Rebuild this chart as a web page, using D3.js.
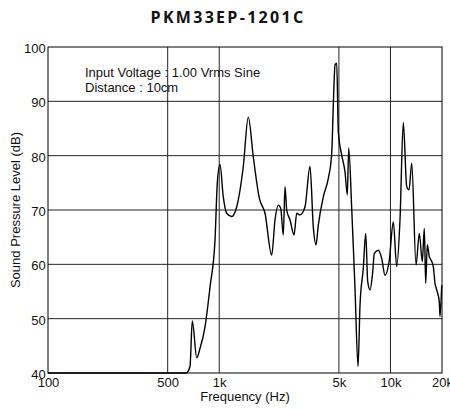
<!DOCTYPE html>
<html>
<head>
<meta charset="utf-8">
<script src="https://cdn.jsdelivr.net/npm/d3@7"></script>
<style>
  html, body { margin: 0; padding: 0; background: #fff; }
  svg { display: block; }
</style>
</head>
<body>
<svg id="chart" width="450" height="410"></svg>
<script>
const title = "PKM33EP-1201C";
const notes = ["Input Voltage : 1.00 Vrms Sine", "Distance : 10cm"];
const xLabel = "Frequency (Hz)";
const yLabel = "Sound Pressure Level (dB)";

const xTicks = [100, 500, 1000, 5000, 10000, 20000];
const xTickLabels = ["100", "500", "1k", "5k", "10k", "20k"];
const yTicks = [40, 50, 60, 70, 80, 90, 100];

const freqs = [100, 640, 675, 696, 739, 772, 826, 884, 945, 974, 1010, 1056, 1106, 1183, 1265, 1382, 1478, 1581, 1714, 1851,
  2025, 2117, 2213, 2286, 2367, 2422, 2478, 2590, 2734, 2836, 2964, 3169, 3389, 3543, 3675, 3790, 4053, 4335, 4539, 4637,
  4745, 4855, 4960, 5193, 5428, 5598, 5704, 5939, 6208, 6466, 6642, 6941, 7170, 7366, 7597, 7877, 8050, 8492, 8889, 9294,
  9847, 10390, 10877, 11369, 11885, 12446, 12836, 13312, 14103, 14744, 15346, 15765, 16066, 16414, 16863, 17252, 17795,
  18206, 18627, 19290, 19473, 19923];
const spl = [40, 40, 41.2, 49.6, 42.8, 44.5, 48.5, 55.9, 64.5, 74.9, 78.4, 72.4, 69.4, 68.8, 70.6, 78.0, 87.1, 79.8, 72.2, 69.4,
  61.7, 68.2, 70.9, 70.3, 65.4, 74.3, 70.0, 68.2, 65.4, 69.4, 69.1, 70.6, 78.0, 66.9, 63.6, 67.2, 72.4, 75.8, 80.4, 89.3,
  96.7, 97.0, 84.4, 80.1, 77.0, 72.8, 81.4, 70.3, 55.6, 41.2, 52.5, 59.3, 65.7, 56.8, 55.3, 58.6, 62.0, 62.6, 61.1, 58.0,
  60.8, 67.8, 59.6, 68.2, 86.1, 74.3, 73.7, 78.6, 59.9, 65.7, 60.5, 66.6, 56.5, 63.6, 61.4, 60.8, 59.6, 56.5,
  55.3, 53.1, 50.4, 56.2];

const svg = d3.select("#chart");
const L = 48, R = 442, T = 47, B = 373;
const font = "'Liberation Sans', Arial, sans-serif";
const fs = 13;

const x = d3.scaleLog().domain([100, 20000]).range([L, R]);
const y = d3.scaleLinear().domain([40, 100]).range([B, T]);

// title
svg.append("text")
  .attr("x", 228).attr("y", 23)
  .attr("text-anchor", "middle")
  .attr("font-family", "'Open Sans', sans-serif")
  .attr("font-weight", "bold")
  .attr("font-size", 16)
  .attr("letter-spacing", 2.3)
  .attr("fill", "#111")
  .text(title);

// grid
const grid = svg.append("g").attr("stroke", "#222").attr("stroke-width", 1);
grid.selectAll("line.v").data(xTicks.slice(1, -1)).join("line")
  .attr("x1", d => x(d)).attr("x2", d => x(d)).attr("y1", T).attr("y2", B);
grid.selectAll("line.h").data(yTicks.slice(1, -1)).join("line")
  .attr("y1", d => y(d)).attr("y2", d => y(d)).attr("x1", L).attr("x2", R);

// frame
svg.append("rect").attr("x", L).attr("y", T).attr("width", R - L).attr("height", B - T)
  .attr("fill", "none").attr("stroke", "#000").attr("stroke-width", 1);

// axes
const xAxis = svg.append("g").attr("transform", `translate(0,${B})`)
  .call(d3.axisBottom(x).tickValues(xTicks).tickFormat((d, i) => xTickLabels[i]).tickSize(0).tickPadding(4.5));
xAxis.select(".domain").remove();
xAxis.selectAll("text").attr("font-family", font).attr("font-size", fs).attr("fill", "#111");

const yAxis = svg.append("g").attr("transform", `translate(${L},0)`)
  .call(d3.axisLeft(y).tickValues(yTicks).tickSize(0).tickPadding(2.3));
yAxis.select(".domain").remove();
yAxis.selectAll("text").attr("font-family", font).attr("font-size", fs).attr("fill", "#111").attr("dy", "0.42em");

// axis titles
svg.append("text").attr("x", (L + R) / 2).attr("y", 401).attr("text-anchor", "middle")
  .attr("font-family", font).attr("font-size", fs).attr("fill", "#111").text(xLabel);
svg.append("text").attr("transform", `translate(20,${(T + B) / 2}) rotate(-90)`).attr("text-anchor", "middle")
  .attr("font-family", font).attr("font-size", fs).attr("fill", "#111").text(yLabel);

// notes
svg.selectAll("text.note").data(notes).join("text")
  .attr("class", "note")
  .attr("x", 85).attr("y", (d, i) => 77 + i * 15)
  .attr("font-family", font).attr("font-size", fs).attr("fill", "#111")
  .text(d => d);

// curve
const data = freqs.map((f, i) => ({ f, v: spl[i] }));
const line = d3.line().x(d => x(d.f)).y(d => y(d.v)).curve(d3.curveMonotoneX);
svg.append("path").datum(data).attr("d", line)
  .attr("fill", "none").attr("stroke", "#000").attr("stroke-width", 1.4).attr("stroke-linejoin", "round");
</script>
</body>
</html>
